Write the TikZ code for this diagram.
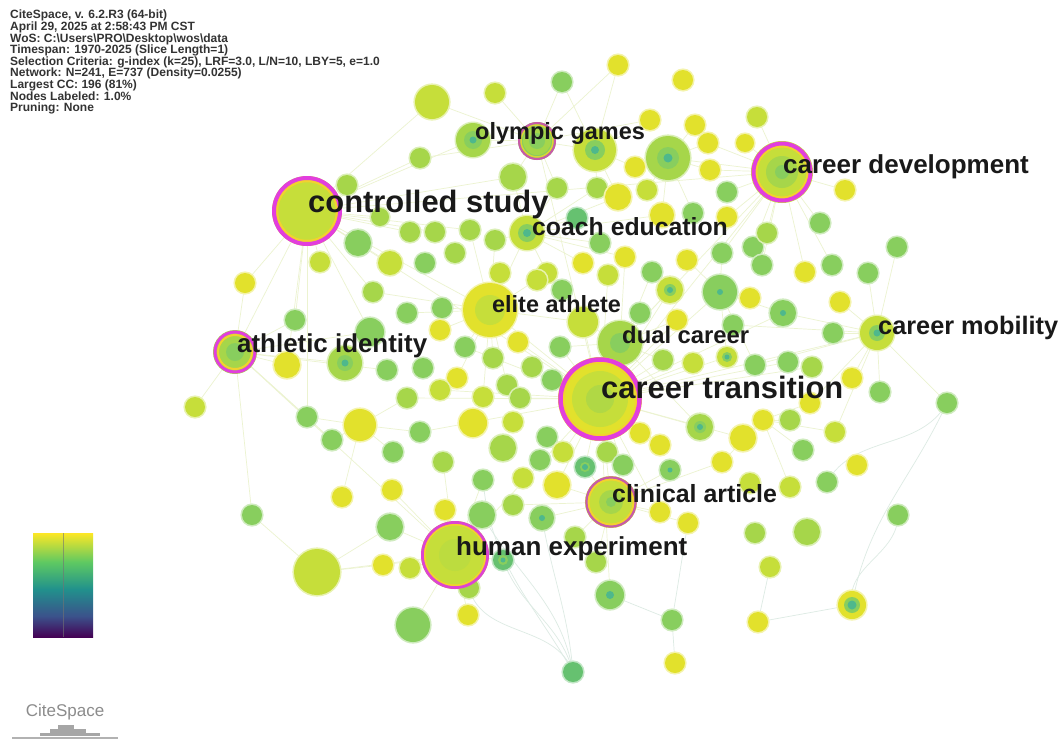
\documentclass[tikz,border=0pt]{standalone}
\usepackage{fontspec}
\setmainfont{Liberation Sans}
\definecolor{cY}{HTML}{E2E12C}
\definecolor{cYG}{HTML}{C6DE3A}
\definecolor{cLG}{HTML}{A6D64A}
\definecolor{cG}{HTML}{88CE5E}
\definecolor{cT}{HTML}{66C170}
\definecolor{cDot}{HTML}{4EB88C}
\definecolor{cMag}{HTML}{E23EDD}
\definecolor{cMagD}{HTML}{C85AA8}
\definecolor{cRingY}{HTML}{F2D22E}
\definecolor{cEdge}{HTML}{ECF3D0}
\definecolor{cEdgeB}{HTML}{DDEBE4}
\definecolor{vA}{HTML}{440154}
\definecolor{vB}{HTML}{3B528B}
\definecolor{vC}{HTML}{21918C}
\definecolor{vD}{HTML}{5EC962}
\definecolor{vE}{HTML}{FDE725}
\pgfdeclareverticalshading{viridis}{100bp}{color(0bp)=(vA); color(25bp)=(vA); color(35bp)=(vB); color(48bp)=(vC); color(61bp)=(vD); color(75bp)=(vE); color(100bp)=(vE)}
\tikzset{
  edge/.style={draw=cEdge, line width=0.7pt},
  edgeb/.style={draw=cEdgeB, line width=0.7pt},
  lbl/.style={inner sep=0pt, anchor=base west, text=black!90},
}
\begin{document}
\begin{tikzpicture}[x=1pt, y=-1pt]
\useasboundingbox (0,0) rectangle (1064,739);
\fill[white] (0,0) rectangle (1064,739);

% ---------- info text ----------
\node[anchor=north west, inner sep=0pt, align=left, text=black!80,
      font=\bfseries\fontsize{12}{11.6}\selectfont] (info) at (10,10)
 {CiteSpace, v. 6.2.R3 (64-bit)\\
  April 29, 2025 at 2:58:43 PM CST\\
  WoS: C:\textbackslash Users\textbackslash PRO\textbackslash Desktop\textbackslash wos\textbackslash data\\
  Timespan: 1970-2025 (Slice Length=1)\\
  Selection Criteria: g-index (k=25), LRF=3.0, L/N=10, LBY=5, e=1.0\\
  Network: N=241, E=737 (Density=0.0255)\\
  Largest CC: 196 (81\%)\\
  Nodes Labeled: 1.0\%\\
  Pruning: None};

% ---------- node positions ----------
\foreach \nm/\x/\y in {CS/307/211, CT/600/399, CD/782/172, AI/235/352,
  OG/537/141, CA/611/502, HE/455/555, EA/490/310, DC/620/343,
  CM/877/333, CE/527/233, OL/473/140}
  \coordinate (\nm) at (\x,\y);

\def\nodelist{
 a1/432/102/17/cYG, a2/495/93/10/cYG, a3/562/82/10/cG, a4/618/65/10/cY, a5/683/80/10/cY,
 a6/420/158/10/cLG, a7/347/185/10/cLG, a8/650/120/10/cY, a9/695/125/10/cY, a10/708/143/10/cY,
 a11/745/143/9/cY, a12/757/117/10/cYG, a13/595/150/21/cYG, a14/668/158/22/cLG, a15/635/167/10/cY,
 a16/710/170/10/cY, a17/513/177/13/cLG, a18/557/188/10/cLG, a19/597/188/10/cLG, a20/618/197/13/cY,
 a21/647/190/10/cYG, a22/727/192/10/cG, a23/577/218/10/cT, a24/662/215/12/cY, a25/693/213/10/cG,
 a26/727/217/10/cY, a27/470/230/10/cLG, a28/495/240/10/cLG, a29/600/243/10/cG, a30/625/257/10/cY,
 a31/583/263/10/cY, a32/687/260/10/cY, a33/722/253/10/cG, a34/753/247/10/cG, a35/652/272/10/cG,
 a36/500/273/10/cYG, a37/547/273/10/cYG, a38/608/275/10/cYG, a39/762/265/10/cG, a40/845/190/10/cY,
 a41/820/223/10/cG, a42/767/233/10/cLG, a43/897/247/10/cG, a44/805/272/10/cY, a45/832/265/10/cG,
 a46/868/273/10/cG, a47/380/217/9/cLG, a48/410/232/10/cLG, a49/435/232/10/cLG,
 a51/358/243/13/cG, a52/320/262/10/cYG, a53/390/263/12/cYG, a54/425/263/10/cG, a55/455/253/10/cLG,
 a56/245/283/10/cY, a57/295/320/10/cG, a58/373/292/10/cLG, a59/407/313/10/cG, a60/442/308/10/cG,
 a61/440/330/10/cY, a62/370/332/14/cG, a63/465/347/10/cG, a64/287/365/13/cY, a65/345/363/17/cLG,
 a66/387/370/10/cG, a67/423/368/10/cG, a68/457/378/10/cY, a69/440/390/10/cYG, a70/407/398/10/cLG,
 a71/195/407/10/cYG, a72/307/417/10/cG, a73/360/425/16/cY, a74/420/432/10/cG,
 a76/332/440/10/cG, a77/393/452/10/cG, a78/443/462/10/cLG, a79/392/490/10/cY, a80/342/497/10/cY,
 a82/537/280/10/cYG, a83/562/290/10/cG, a86/670/290/13/cYG, a87/720/292/17/cG, a88/750/298/10/cY,
 a89/640/313/10/cG, a90/677/320/10/cY, a91/583/322/15/cYG, a92/733/325/10/cG, a93/518/342/10/cY,
 a94/560/347/10/cG, a95/493/358/10/cLG, a96/532/367/10/cLG, a98/663/360/10/cLG, a99/693/363/10/cYG,
 a100/727/357/10/cYG, a101/755/365/10/cG, a102/507/385/10/cLG, a103/483/397/10/cYG, a104/520/398/10/cLG,
 a105/552/380/10/cG, a106/473/423/14/cY, a107/513/422/10/cYG, a108/547/437/10/cG, a109/503/448/13/cLG,
 a110/540/460/10/cG, a111/563/452/10/cYG, a112/483/480/10/cG, a113/523/478/10/cYG, a114/557/485/13/cY,
 a115/585/467/10/cT, a116/607/452/10/cLG, a117/623/465/10/cG, a118/640/433/10/cY, a119/660/445/10/cY,
 a120/670/470/10/cG, a121/700/427/13/cLG, a122/722/462/10/cY, a123/743/438/13/cY, a124/763/420/10/cY,
 a125/750/483/10/cYG, a126/783/313/13/cG, a127/833/333/10/cG, a129/788/362/10/cG,
 a130/812/367/10/cLG, a131/852/378/10/cY, a132/880/392/10/cG, a133/947/403/10/cG, a134/790/420/10/cLG,
 a135/810/403/10/cY, a136/835/432/10/cYG, a137/803/450/10/cG, a138/857/465/10/cY, a139/827/482/10/cG,
 a140/790/487/10/cYG, a141/660/512/10/cY, a142/688/523/10/cY, a143/755/533/10/cLG, a144/807/532/13/cLG,
 a145/898/515/10/cG, a146/770/567/10/cYG, a148/575/537/10/cLG, a149/596/562/10/cLG, a150/840/302/10/cY,
 a151/252/515/10/cG, a152/445/510/10/cY, a153/390/527/13/cG, a154/317/572/23/cYG, a155/383/565/10/cY,
 a156/410/568/10/cYG, a157/469/588/10/cLG, a158/413/625/17/cG, a159/468/615/10/cY, a160/482/515/13/cG,
 a161/513/505/10/cLG, a162/542/518/12/cG, a163/503/560/10/cT, a164/610/595/14/cG, a165/672/620/10/cG,
 a166/758/622/10/cY, a167/852/605/14/cY, a168/573/672/10/cT, a169/675/663/10/cY}

\foreach \nm/\x/\y/\r/\c in \nodelist
  \coordinate (\nm) at (\x,\y);

% ---------- edges ----------
\foreach \h/\ts in {
  CS/{a7,a47,a51,a52,a56,a64,a6,a1,a17,a62,a72,a57,a53,a48,a49,EA,CT,CD,AI,OL,a58,a27},
  CT/{a86,a91,a105,a104,a114,a119,a121,a123,a87,a126,a94,a93,a111,a115,a141,a164,a90,a98,a99,a100,a118,a116,a117,a35,a38,CD,CM,HE,CA,OG,DC,EA,a63,a69,a70,a74,a130,a129},
  CD/{a12,a16,a22,a26,a40,a41,a42,a34,a39,a10,a11,DC,a14,a45,a44,a33},
  AI/{a56,a57,a64,a71,a72,a65,a62,HE,a151,a66,a76},
  OG/{a1,a2,a3,a17,a6,a18,OL,a13,a4,a8},
  CA/{a115,a117,a141,a142,a148,a149,a161,a162,a114,a120,a122},
  HE/{a155,a156,a157,a159,a160,a163,a153,a152,a112,a154,a158,a78,a79},
  EA/{a36,a37,a60,a61,a63,a27,a28,a58,a59,a91,CE,a95,a102,a103,a68},
  DC/{a86,a89,a90,a91,a98,a94,a30,a121},
  CM/{a127,a131,a132,a133,a46,a43,a92,a150,a126,a135,a101,a136},
  CE/{a17,a18,a19,a23,a28,a29,a30,a31,a37,a20,a24},
  a87/{a100,a101,a126,a33,a32,a88},
  a124/{a134,a135,a136,a137,a122,a140},
  a73/{a74,a76,a77,a72,a80,a70},
  a154/{a153,a151,a155},
  a14/{a9,a10,a15,a16,a21,a24,a25},
  a13/{a3,a4,a8,a15,a19,a20}}
  \foreach \t in \ts \draw[edge] (\h) -- (\t);

\draw[edgeb] (a168) to[out=100, in=-60] (a160);
\draw[edgeb] (a168) to[out=105, in=-70] (a163);
\draw[edgeb] (a168) to[out=110, in=-75] (a157);
\draw[edgeb] (a168) to[out=95, in=-80] (a162);
\draw[edgeb] (a168) to[out=120, in=-85] (a112);
\draw[edgeb] (a164) -- (a165) -- (a169);
\draw[edgeb] (a165) to[out=80, in=-100] (a142);
\draw[edgeb] (a167) to[out=80, in=-115] (a133);
\draw[edgeb] (a167) to[out=100, in=-90] (a145);
\draw[edgeb] (a167) -- (a166);
\draw[edgeb] (a166) -- (a146);
\draw[edgeb] (a133) to[out=-120, in=60] (a139);

% ---------- small nodes (soft halo + body) ----------
\foreach \nm/\x/\y/\r/\c in \nodelist
  {\fill[\c!40] (\nm) circle[radius={\r pt+1.6pt}];
   \fill[\c] (\nm) circle[radius={\r pt}];}

% unlabelled nodes with teal centres
\foreach \nm/\ra/\rb in {a13/10/4, a14/11/4.5, a65/8/3.5, a86/6/3, a100/5/2.5, a115/5/3, a120/5/2.5,
  a121/6/3, a126/6/3, a162/6/3, a163/5/2.5, a164/8/4, a167/8/4.5, a87/8/3}
  {\fill[cG] (\nm) circle (\ra pt); \fill[cDot] (\nm) circle (\rb pt);}

% ---------- labelled nodes ----------
\fill[cY!40] (EA) circle (28.5pt); \fill[cY] (EA) circle (27pt); \fill[cYG] (EA) circle (15pt);
\fill[cLG!40] (DC) circle (23.5pt); \fill[cLG] (DC) circle (22pt); \fill[cG] (DC) circle (10pt);
\fill[cYG!40] (CM) circle (18.5pt); \fill[cYG] (CM) circle (17pt); \fill[cG] (CM) circle (8pt); \fill[cDot] (CM) circle (3.5pt);
\fill[cYG!40] (CE) circle (18.5pt); \fill[cYG] (CE) circle (17pt); \fill[cG] (CE) circle (9pt); \fill[cDot] (CE) circle (4pt);
\fill[cLG!40] (OL) circle (18.5pt); \fill[cLG] (OL) circle (17pt); \fill[cG] (OL) circle (9pt); \fill[cDot] (OL) circle (3.5pt);

% ring nodes (fill, inner yellow ring, magenta ring)
\fill[cYG] (CS) circle (35pt);
\draw[cRingY, line width=2.5pt] (CS) circle (30pt);
\draw[cMag, line width=4pt] (CS) circle (33pt);

\fill[cY] (CT) circle (42pt); \fill[cYG] (CT) circle (28pt); \fill[cLG!70!cYG] (CT) circle (14pt);
\draw[cRingY, line width=2.5pt] (CT) circle (36.5pt);
\draw[cMag, line width=4.5pt] (CT) circle (39.5pt);

\fill[cYG] (CD) circle (31pt); \fill[cLG] (CD) circle (16pt); \fill[cG] (CD) circle (7pt);
\draw[cRingY, line width=2pt] (CD) circle (25.5pt);
\draw[cMag, line width=4pt] (CD) circle (28.5pt);

\fill[cLG] (AI) circle (22pt); \fill[cG] (AI) circle (9pt);
\draw[cRingY, line width=2pt] (AI) circle (17pt);
\draw[cMag, line width=3pt] (AI) circle (20pt);

\fill[cG] (OG) circle (19pt); \fill[cLG] (OG) circle (14pt); \fill[cG] (OG) circle (8pt);
\draw[cRingY!70!cLG, line width=1.5pt] (OG) circle (16pt);
\draw[cMagD, line width=2pt] (OG) circle (18pt);

\fill[cYG] (CA) circle (26pt); \fill[cLG] (CA) circle (12pt); \fill[cG] (CA) circle (5pt);
\draw[cRingY, line width=2pt] (CA) circle (22.5pt);
\draw[cMagD, line width=2.2pt] (CA) circle (24.6pt);

\fill[cYG] (HE) circle (34pt); \fill[cYG!70!cLG] (HE) circle (16pt);
\draw[cRingY, line width=2pt] (HE) circle (30.5pt);
\draw[cMag!80!cMagD, line width=2.8pt] (HE) circle (32.6pt);

% ---------- labels ----------
\node[lbl, font=\bfseries\fontsize{23.5}{24}\selectfont] (tOG) at (475,139) {olympic games};
\node[lbl, font=\bfseries\fontsize{30.9}{31}\selectfont] (tCS) at (308,212) {controlled study};
\node[lbl, font=\bfseries\fontsize{26}{26}\selectfont] (tCD) at (783,173) {career development};
\node[lbl, font=\bfseries\fontsize{24.8}{25}\selectfont] (tCE) at (532,235) {coach education};
\node[lbl, font=\bfseries\fontsize{23.4}{24}\selectfont] (tEA) at (492,312) {elite athlete};
\node[lbl, font=\bfseries\fontsize{23.8}{24}\selectfont] (tDC) at (622,343) {dual career};
\node[lbl, font=\bfseries\fontsize{25.3}{25}\selectfont] (tCM) at (878,334) {career mobility};
\node[lbl, font=\bfseries\fontsize{25.9}{26}\selectfont] (tAI) at (237,352) {athletic identity};
\node[lbl, font=\bfseries\fontsize{30.9}{31}\selectfont] (tCT) at (601,398) {career transition};
\node[lbl, font=\bfseries\fontsize{24.9}{25}\selectfont] (tCA) at (612,502) {clinical article};
\node[lbl, font=\bfseries\fontsize{26}{26}\selectfont] (tHE) at (456,555) {human experiment};

% ---------- colour bar ----------
\shade[shading=viridis] (33,533) rectangle (93,637);
\draw[black!55, line width=1pt, opacity=0.6] (63,533) -- (63,637);

% ---------- CiteSpace logo ----------
\node[inner sep=0pt, text=black!45, font=\fontsize{17}{17}\selectfont] (logo) at (65,712) {CiteSpace};
\fill[black!35] (58,725) rectangle (74,729);
\fill[black!35] (50,729) rectangle (86,733);
\fill[black!35] (40,733) rectangle (100,736);
\fill[black!30] (12,737) rectangle (118,739);
\end{tikzpicture}
\end{document}
